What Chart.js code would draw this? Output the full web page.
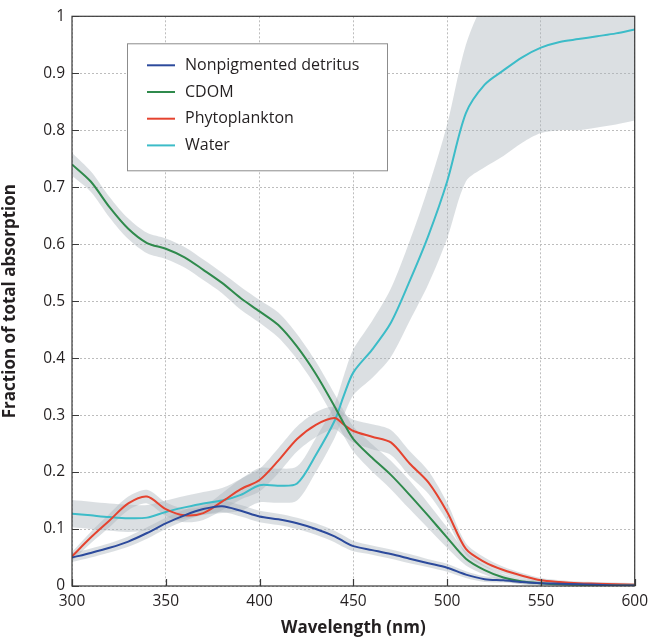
<!DOCTYPE html>
<html>
<head>
<meta charset="utf-8">
<script src="https://cdn.jsdelivr.net/npm/chart.js@4.4.1/dist/chart.umd.min.js"></script>
<style>
  html, body { margin: 0; padding: 0; background: #fff; }
  #wrap { width: 654px; height: 640px; }
</style>
</head>
<body>
<div id="wrap"><canvas id="chart"></canvas></div>
<script>
// wavelength samples (nm)
const wavelengths = [300, 310, 320, 330, 340, 350, 360, 370, 380, 390, 400, 410, 420, 430, 440, 445, 450,
  460, 470, 480, 490, 500, 510, 520, 530, 540, 550, 560, 570, 580, 590, 600];

// fraction of total absorption
const detritus = [0.05, 0.058, 0.067, 0.078, 0.093, 0.11, 0.124, 0.135, 0.14, 0.132, 0.122, 0.117, 0.11, 0.1, 0.087, 0.078, 0.07,
  0.063, 0.056, 0.048, 0.04, 0.032, 0.02, 0.012, 0.01, 0.007, 0.005, 0.004, 0.003, 0.002, 0.001, 0.001];
const cdom = [0.74, 0.71, 0.665, 0.627, 0.602, 0.592, 0.577, 0.555, 0.532, 0.505, 0.482, 0.458, 0.42, 0.372, 0.315, 0.285, 0.258,
  0.225, 0.195, 0.16, 0.123, 0.085, 0.048, 0.028, 0.015, 0.008, 0.005, 0.003, 0.002, 0.001, 0.001, 0.001];
const phyto = [0.052, 0.085, 0.115, 0.145, 0.157, 0.135, 0.124, 0.128, 0.148, 0.17, 0.186, 0.22, 0.258, 0.283, 0.295, 0.283, 0.272,
  0.262, 0.252, 0.215, 0.182, 0.13, 0.065, 0.042, 0.028, 0.018, 0.01, 0.007, 0.005, 0.004, 0.003, 0.002];
const water = [0.127, 0.124, 0.121, 0.119, 0.12, 0.13, 0.138, 0.145, 0.15, 0.16, 0.177, 0.176, 0.18, 0.23, 0.29, 0.335, 0.375,
  0.415, 0.462, 0.535, 0.615, 0.71, 0.83, 0.88, 0.905, 0.928, 0.945, 0.955, 0.96, 0.965, 0.97, 0.977];

// half-width of the shaded band around each curve
const detritusSpread = [0.008, 0.008, 0.008, 0.009, 0.01, 0.01, 0.01, 0.01, 0.01, 0.01, 0.01, 0.01, 0.01, 0.01, 0.01, 0.01, 0.009,
  0.008, 0.008, 0.008, 0.007, 0.007, 0.006, 0.005, 0.004, 0.004, 0.003, 0.003, 0.003, 0.003, 0.003, 0.003];
const cdomSpread = [0.02, 0.018, 0.018, 0.018, 0.018, 0.018, 0.018, 0.018, 0.018, 0.02, 0.02, 0.022, 0.022, 0.022, 0.022, 0.022, 0.022,
  0.024, 0.025, 0.025, 0.022, 0.018, 0.012, 0.008, 0.006, 0.005, 0.004, 0.003, 0.003, 0.003, 0.003, 0.003];
const phytoSpread = [0.008, 0.01, 0.012, 0.012, 0.012, 0.012, 0.012, 0.012, 0.015, 0.018, 0.02, 0.022, 0.022, 0.022, 0.02, 0.02, 0.02,
  0.022, 0.022, 0.022, 0.02, 0.016, 0.01, 0.008, 0.006, 0.005, 0.004, 0.003, 0.003, 0.003, 0.003, 0.003];
const waterSpread = [0.024, 0.024, 0.024, 0.024, 0.022, 0.02, 0.02, 0.02, 0.022, 0.028, 0.03, 0.03, 0.03, 0.03, 0.03, 0.035, 0.04,
  0.05, 0.06, 0.07, 0.085, 0.1, 0.12, 0.145, 0.15, 0.15, 0.15, 0.155, 0.16, 0.16, 0.16, 0.16];

const seriesNames = ['Nonpigmented detritus', 'CDOM', 'Phytoplankton', 'Water'];
const seriesColors = ['#2c4a9c', '#2f8a4c', '#e5432f', '#3cbcc8'];
const seriesValues = [detritus, cdom, phyto, water];
const seriesSpreads = [detritusSpread, cdomSpread, phytoSpread, waterSpread];

const textColor = '#231f20';
const fontFamily = '"Open Sans", "Noto Sans", sans-serif';
const bandColor = 'rgba(170, 178, 186, 0.42)';

const toPoints = (vals) => wavelengths.map((x, i) => ({ x: x, y: vals[i] }));

const datasets = [];
// curves first: Chart.js paints dataset 0 on top
seriesValues.forEach((vals, s) => {
  datasets.push({
    label: seriesNames[s],
    data: toPoints(vals),
    borderColor: seriesColors[s],
    borderWidth: 2,
    pointRadius: 0,
    tension: 0.3,
    fill: false
  });
});
// then the grey bands (lower edge, upper edge filled to lower)
seriesValues.forEach((vals, s) => {
  const sd = seriesSpreads[s];
  datasets.push({
    label: 'band-lo',
    data: toPoints(vals.map((v, i) => Math.max(0, v - sd[i]))),
    borderWidth: 0,
    pointRadius: 0,
    tension: 0.3,
    fill: false
  });
  datasets.push({
    label: 'band-hi',
    data: toPoints(vals.map((v, i) => v + sd[i])),
    borderWidth: 0,
    pointRadius: 0,
    tension: 0.3,
    backgroundColor: bandColor,
    fill: '-1'
  });
});

// frame, inward tick marks and boxed legend
const decorPlugin = {
  id: 'decor',
  afterDatasetsDraw(chart) {
    const ctx = chart.ctx;
    const a = chart.chartArea;
    const xs = chart.scales.x, ys = chart.scales.y;
    ctx.save();
    ctx.strokeStyle = '#3a3a3a';
    ctx.lineWidth = 1.2;
    ctx.strokeRect(a.left, a.top, a.right - a.left, a.bottom - a.top);
    ctx.beginPath();
    xs.ticks.forEach(t => {
      const px = Math.round(xs.getPixelForValue(t.value)) + 0.5;
      ctx.moveTo(px, a.bottom);
      ctx.lineTo(px, a.bottom - 7);
    });
    ys.ticks.forEach(t => {
      const py = Math.round(ys.getPixelForValue(t.value)) + 0.5;
      ctx.moveTo(a.left, py);
      ctx.lineTo(a.left + 7, py);
    });
    ctx.stroke();

    // legend box
    const bx = a.left + 55, by = a.top + 27, bw = 260, bh = 127;
    ctx.fillStyle = '#fff';
    ctx.fillRect(bx, by, bw, bh);
    ctx.strokeStyle = '#8c8c8c';
    ctx.lineWidth = 1;
    ctx.strokeRect(bx + 0.5, by + 0.5, bw, bh);
    ctx.font = '16px ' + fontFamily;
    ctx.textBaseline = 'middle';
    seriesNames.forEach((name, i) => {
      const y = by + 22 + i * 26.7;
      ctx.strokeStyle = seriesColors[i];
      ctx.lineWidth = 2;
      ctx.beginPath();
      ctx.moveTo(bx + 20, y);
      ctx.lineTo(bx + 48, y);
      ctx.stroke();
      ctx.fillStyle = textColor;
      ctx.fillText(name, bx + 58, y);
    });
    ctx.restore();
  }
};

new Chart(document.getElementById('chart'), {
  type: 'line',
  data: { datasets: datasets },
  plugins: [decorPlugin],
  options: {
    responsive: true,
    maintainAspectRatio: false,
    animation: false,
    layout: { padding: { top: 14, right: 17, left: 0, bottom: 0 } },
    plugins: {
      legend: { display: false },
      tooltip: { enabled: false }
    },
    scales: {
      x: {
        type: 'linear',
        min: 300,
        max: 600,
        afterFit: (scale) => { scale.height = 54; },
        ticks: {
          stepSize: 50,
          color: textColor,
          padding: 6,
          font: { family: fontFamily, size: 15.5 }
        },
        grid: { color: '#bdbdbd', lineWidth: 1, drawTicks: false },
        border: { display: false, dash: [2, 2] },
        title: {
          display: true,
          text: 'Wavelength (nm)',
          color: textColor,
          padding: { top: 0, bottom: 2 },
          font: { family: fontFamily, size: 17, weight: 'bold' }
        }
      },
      y: {
        min: 0,
        max: 1,
        afterFit: (scale) => { scale.width = 72; },
        ticks: {
          stepSize: 0.1,
          color: textColor,
          padding: 7,
          font: { family: fontFamily, size: 15.5 },
          callback: (v) => String(Math.round(v * 10) / 10)
        },
        grid: { color: '#bdbdbd', lineWidth: 1, drawTicks: false },
        border: { display: false, dash: [2, 2] },
        title: {
          display: true,
          text: 'Fraction of total absorption',
          color: textColor,
          padding: { top: 0, bottom: 10 },
          font: { family: fontFamily, size: 17, weight: 'bold' }
        }
      }
    }
  }
});
</script>
</body>
</html>
